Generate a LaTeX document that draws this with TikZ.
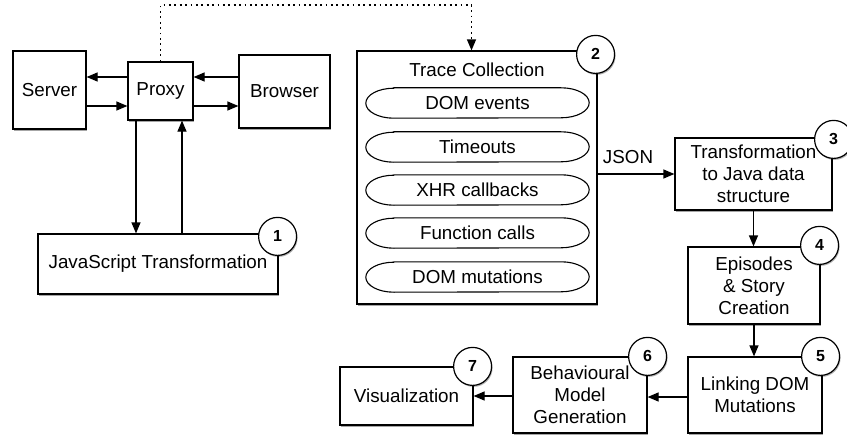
\documentclass[tikz,border=0pt]{standalone}
\usepackage{fontspec}
\setmainfont{Liberation Sans}
\usetikzlibrary{arrows.meta,shadows}
\begin{document}
\begin{tikzpicture}[x=1pt,y=-1pt,
  every node/.style={font=\fontsize{18.8}{22}\selectfont},
  box/.style={draw=black, line width=1.2pt, fill=white, inner sep=0pt, align=center,
     drop shadow={shadow xshift=1.2pt, shadow yshift=-1.8pt, opacity=0.35, fill=black}},
  num/.style={circle, draw=black, line width=1.2pt, fill=white, minimum size=38pt, inner sep=0pt,
     font=\fontsize{16}{18}\bfseries\selectfont,
     drop shadow={shadow xshift=1pt, shadow yshift=-1.5pt, opacity=0.3, fill=black}},
  arr/.style={line width=1.2pt, -{Triangle[length=11pt,width=9pt]}},
  dots/.style={line width=1.3pt, dash pattern=on 1.8pt off 3.6pt, -{Triangle[length=11pt,width=9pt]}},
  pill/.style={line width=1.1pt}
]
\useasboundingbox (0,0) rectangle (847,436);

% left cluster
\node[box, minimum width=73pt, minimum height=78pt] (server) at (49.5,90) {Server};
\node[box, minimum width=65pt, minimum height=58pt] (proxy) at (160.5,91) {Proxy};
\node[box, minimum width=91pt, minimum height=73pt] (browser) at (284.5,91.5) {Browser};
\node[box, minimum width=240pt, minimum height=60pt] (js) at (158,264) {JavaScript Transformation};
\node[num] (n1) at ([xshift=-1pt,yshift=-3pt]js.north east) {1};

% trace collection
\node[box, minimum width=240pt, minimum height=253pt] (trace) at (477,177.5) {};
\node (tracet) at (477,70) {Trace Collection};
\node[num] (n2) at ([xshift=-2pt,yshift=-4pt]trace.north east) {2};

\foreach \yy/\tt [count=\i] in {103/DOM events,147/Timeouts,190/XHR callbacks,233/Function calls,277/DOM mutations}{
  \node[inner sep=0pt, minimum width=223pt, minimum height=30pt] (p\i) at (477.5,\yy) {\tt};
  \draw[pill] ([xshift=28pt]p\i.north west) -- ([xshift=-28pt]p\i.north east)
     arc[start angle=90, end angle=-90, x radius=28pt, y radius=15pt]
     -- ([xshift=28pt]p\i.south west)
     arc[start angle=270, end angle=90, x radius=28pt, y radius=15pt] -- cycle;
}

% right chain
\node[box, minimum width=157pt, minimum height=72pt] (t3) at (753.5,174) {Transformation\\to Java data\\structure};
\node[num] (n3) at ([xshift=1pt,yshift=-2pt]t3.north east) {3};
\node[box, minimum width=132pt, minimum height=77pt] (e4) at (754,285.5) {Episodes\\\& Story\\Creation};
\node[num] (n4) at ([xshift=-1pt,yshift=1pt]e4.north east) {4};
\node[box, minimum width=134pt, minimum height=76pt] (l5) at (755,395) {Linking DOM\\Mutations};
\node[num] (n5) at ([xshift=-2pt]l5.north east) {5};
\node[box, minimum width=134pt, minimum height=76pt] (b6) at (580,395) {Behavioural\\Model\\Generation};
\node[num] (n6) at (b6.north east) {6};
\node[box, minimum width=133pt, minimum height=58pt] (v7) at (406.5,396) {Visualization};
\node[num] (n7) at ([xshift=-1pt]v7.north east) {7};

\node (json) at (628,157) {JSON};

% connectors
\draw[arr] ([yshift=14pt]proxy.west) -- ([yshift=14pt]proxy.west -| server.east);
\draw[arr] ([yshift=-15pt]proxy.west -| server.east) -- ([yshift=-15pt]proxy.west);
\draw[arr] ([yshift=14pt]proxy.east -| browser.west) -- ([yshift=14pt]proxy.east);
\draw[arr] ([yshift=-15pt]proxy.east) -- ([yshift=-15pt]proxy.east -| browser.west);
\draw[arr] ([xshift=-24.5pt]proxy.south) -- ([xshift=-24.5pt]proxy.south |- js.north);
\draw[arr] ([xshift=21.5pt]proxy.south |- js.north) -- ([xshift=21.5pt]proxy.south);

\coordinate (dtop) at (0,5);
\draw[dots] (proxy.north) -- (proxy.north |- dtop) -| ([xshift=-5.5pt]trace.north);

\draw[arr] (trace.east |- t3.west) -- (t3.west);
\draw[arr] (t3.south) -- (t3.south |- e4.north);
\draw[arr] (e4.south) -- (e4.south |- l5.north);
\draw[arr] ([yshift=-2pt]l5.west) -- ([yshift=-2pt]l5.west -| b6.east);
\draw[arr] ([yshift=-1pt]b6.west) -- ([yshift=-1pt]b6.west -| v7.east);
\end{tikzpicture}
\end{document}
